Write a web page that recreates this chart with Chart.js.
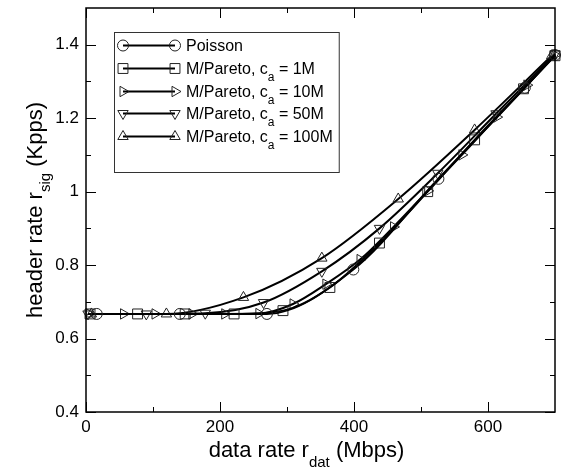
<!DOCTYPE html>
<html>
<head>
<meta charset="utf-8">
<script src="https://cdn.jsdelivr.net/npm/chart.js@4/dist/chart.umd.min.js"></script>
<style>
html,body{margin:0;padding:0;background:#fff;}
canvas{display:block;}
</style>
</head>
<body>
<canvas id="c" width="564" height="473"></canvas>
<script>
// ---- data ----
const xMajorTicks = [0, 200, 400, 600];
const xMinorTicks = [100, 300, 500];
const yMajorTicks = [0.4, 0.6, 0.8, 1.0, 1.2, 1.4];
const yMinorTicks = [0.5, 0.7, 0.9, 1.1, 1.3];
const yTickLabels = ['0.4', '0.6', '0.8', '1', '1.2', '1.4'];

const seriesNames = ['Poisson', 'M/Pareto, c_a = 1M', 'M/Pareto, c_a = 10M', 'M/Pareto, c_a = 50M', 'M/Pareto, c_a = 100M'];

const poissonX = [16, 140, 270, 399, 526, 655, 700];
const poissonY = [0.667, 0.667, 0.667, 0.788, 1.035, 1.283, 1.372];

const pareto1MX = [6, 77, 148, 221, 294, 364, 438, 510, 580, 653, 700];
const pareto1MY = [0.667, 0.667, 0.667, 0.667, 0.676, 0.739, 0.860, 1.000, 1.141, 1.280, 1.370];

const pareto10MX = [5, 56, 103, 158, 207, 258, 309, 358, 409, 459, 510, 561, 613, 658, 700];
const pareto10MY = [0.667, 0.667, 0.667, 0.667, 0.667, 0.668, 0.694, 0.748, 0.815, 0.904, 1.002, 1.100, 1.203, 1.290, 1.372];

const pareto50MX = [3, 90, 178, 265, 352, 438, 525, 612, 700];
const pareto50MY = [0.667, 0.667, 0.669, 0.698, 0.783, 0.900, 1.050, 1.212, 1.375];

const pareto100MX = [8, 120, 235, 352, 466, 580, 695];
const pareto100MY = [0.667, 0.667, 0.712, 0.819, 0.980, 1.168, 1.370];

// ---- styles ----
const FONT = '"Liberation Sans", Arial, Helvetica, sans-serif';
const markerStyles = [
  {pointStyle: 'circle', rotation: 0, radius: 5.5},
  {pointStyle: 'rect', rotation: 0, radius: 7},
  {pointStyle: 'triangle', rotation: 90, radius: 6},
  {pointStyle: 'triangle', rotation: 180, radius: 6},
  {pointStyle: 'triangle', rotation: 0, radius: 6}
];
const seriesXs = [poissonX, pareto1MX, pareto10MX, pareto50MX, pareto100MX];
const seriesYs = [poissonY, pareto1MY, pareto10MY, pareto50MY, pareto100MY];

const datasets = seriesNames.map((name, i) => ({
  label: name,
  data: seriesXs[i].map((x, k) => ({x: x, y: seriesYs[i][k]})),
  borderColor: '#000',
  borderWidth: 2,
  backgroundColor: 'rgba(0,0,0,0)',
  pointStyle: markerStyles[i].pointStyle,
  pointRotation: markerStyles[i].rotation,
  pointRadius: markerStyles[i].radius,
  pointBorderWidth: 1,
  pointBorderColor: '#222',
  pointBackgroundColor: 'rgba(0,0,0,0)',
  cubicInterpolationMode: 'monotone',
  fill: false,
  clip: false
}));

function drawSubText(ctx, parts, x, y) {
  // parts: [text, size, dy]
  let cx = x;
  for (const [t, size, dy] of parts) {
    ctx.font = size + 'px ' + FONT;
    ctx.fillText(t, cx, y + dy);
    cx += ctx.measureText(t).width;
  }
  return cx;
}
function measureSubText(ctx, parts) {
  let w = 0;
  for (const [t, size] of parts) {
    ctx.font = size + 'px ' + FONT;
    w += ctx.measureText(t).width;
  }
  return w;
}
function labelParts(name) {
  const idx = name.indexOf('c_a');
  if (idx < 0) return [[name, 16, 0]];
  return [[name.slice(0, idx) + 'c', 16, 0], ['a', 12, 7], [name.slice(idx + 3), 16, 0]];
}

const framePlugin = {
  id: 'frame',
  afterDraw(chart) {
    const ctx = chart.ctx;
    const {left, right, top, bottom} = chart.chartArea;
    const xs = chart.scales.x, ys = chart.scales.y;
    ctx.save();
    ctx.strokeStyle = '#000';
    ctx.lineWidth = 1;
    ctx.beginPath();
    const tick = (x1, y1, x2, y2) => { ctx.moveTo(x1, y1); ctx.lineTo(x2, y2); };
    for (const v of xMajorTicks) {
      const p = Math.round(xs.getPixelForValue(v)) + 0.5;
      tick(p, bottom, p, bottom - 10); tick(p, top, p, top + 10);
    }
    for (const v of xMinorTicks) {
      const p = Math.round(xs.getPixelForValue(v)) + 0.5;
      tick(p, bottom, p, bottom - 5); tick(p, top, p, top + 5);
    }
    for (const v of yMajorTicks) {
      const p = Math.round(ys.getPixelForValue(v)) + 0.5;
      tick(left, p, left + 10, p); tick(right, p, right - 10, p);
    }
    for (const v of yMinorTicks) {
      const p = Math.round(ys.getPixelForValue(v)) + 0.5;
      tick(left, p, left + 5, p); tick(right, p, right - 5, p);
    }
    ctx.stroke();
    ctx.lineWidth = 1.5;
    ctx.strokeRect(Math.round(left) , Math.round(top), Math.round(right - left), Math.round(bottom - top));

    // axis titles
    ctx.fillStyle = '#000';
    ctx.textBaseline = 'alphabetic';
    ctx.textAlign = 'left';
    const xParts = [['data rate r', 22, 0], ['dat', 15, 10], [' (Mbps)', 22, 0]];
    const xw = measureSubText(ctx, xParts);
    drawSubText(ctx, xParts, (left + right) / 2 - 14 - xw / 2, 457);

    const yParts = [['header rate r', 22, 0], ['sig', 15, 8], [' (Kpps)', 22, 0]];
    const yw = measureSubText(ctx, yParts);
    ctx.save();
    ctx.translate(42, (top + bottom) / 2);
    ctx.rotate(-Math.PI / 2);
    drawSubText(ctx, yParts, -yw / 2, 0);
    ctx.restore();

    // legend
    const lx = 114, ly = 32;
    const rowBase = [51, 74, 97, 119, 142];
    const textX = 186;
    let maxW = 0;
    for (const n of seriesNames) maxW = Math.max(maxW, measureSubText(ctx, labelParts(n)));
    const boxR = textX + maxW + 6;
    ctx.fillStyle = '#fff';
    ctx.fillRect(lx, ly, boxR - lx, 172 - ly);
    ctx.strokeStyle = '#333';
    ctx.lineWidth = 1;
    ctx.strokeRect(lx + 0.5, ly + 0.5, boxR - lx, 172 - ly);
    seriesNames.forEach((n, i) => {
      const yb = rowBase[i];
      const ym = yb - 5.5;
      ctx.strokeStyle = '#000';
      ctx.lineWidth = 2;
      ctx.beginPath();
      ctx.moveTo(123, ym); ctx.lineTo(175, ym);
      ctx.stroke();
      ctx.strokeStyle = '#222';
      ctx.fillStyle = 'rgba(0,0,0,0)';
      ctx.lineWidth = 1;
      const ms = markerStyles[i];
      const opts = {pointStyle: ms.pointStyle, rotation: ms.rotation, radius: ms.radius, borderWidth: 1};
      Chart.helpers.drawPoint(ctx, opts, 123, ym);
      Chart.helpers.drawPoint(ctx, opts, 175, ym);
      ctx.fillStyle = '#000';
      drawSubText(ctx, labelParts(n), textX, yb);
    });
    ctx.restore();
  }
};

const tickFont = {family: FONT, size: 17};
new Chart(document.getElementById('c').getContext('2d'), {
  type: 'line',
  data: {datasets: datasets},
  options: {
    responsive: false,
    animation: false,
    events: [],
    layout: {padding: {top: 2, right: 9, left: 0, bottom: 0}},
    plugins: {legend: {display: false}, tooltip: {enabled: false}},
    scales: {
      x: {
        type: 'linear', min: 0, max: 700,
        grid: {display: false, drawTicks: false},
        border: {display: false},
        afterBuildTicks: s => { s.ticks = xMajorTicks.map(v => ({value: v})); },
        afterFit: s => { s.height = 61; s.paddingLeft = 0; s.paddingRight = 0; },
        ticks: {font: tickFont, color: '#000', padding: 5, maxRotation: 0, autoSkip: false,
          callback: v => String(v)}
      },
      y: {
        type: 'linear', min: 0.4, max: 1.5,
        grid: {display: false, drawTicks: false},
        border: {display: false},
        afterBuildTicks: s => { s.ticks = yMajorTicks.map(v => ({value: v})); },
        afterFit: s => { s.width = 86; s.paddingTop = 0; s.paddingBottom = 0; },
        ticks: {font: tickFont, color: '#000', padding: 7, autoSkip: false,
          callback: (v, i) => yTickLabels[i]}
      }
    }
  },
  plugins: [framePlugin]
});
</script>
</body>
</html>
